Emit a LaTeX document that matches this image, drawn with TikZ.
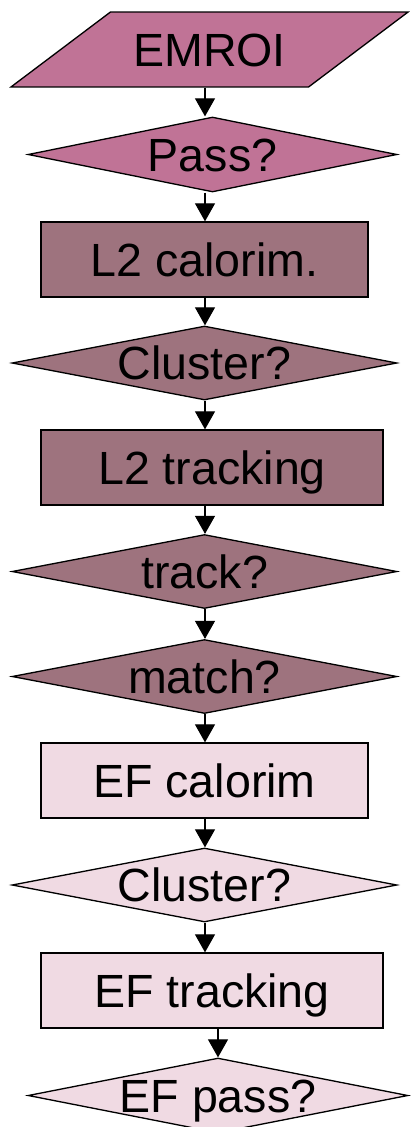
\documentclass[tikz,border=0pt]{standalone}
\usepackage{fontspec}
\setmainfont{Liberation Sans}
\usetikzlibrary{shapes.geometric,arrows.meta}
\definecolor{trigPink}{HTML}{C07396}
\definecolor{trigMauve}{HTML}{9E737E}
\definecolor{trigLight}{HTML}{F0DAE3}
\newcommand{\lbl}[1]{\makebox[0pt]{#1}}
\begin{document}
\begin{tikzpicture}[x=0.02cm, y=-0.02cm,
  every node/.style={font=\fontsize{26.5}{30}\selectfont, draw=black, line width=0.75pt, inner sep=0pt, text height=19pt, text depth=0pt},
  procbox/.style={rectangle, minimum height=1.5cm},
  decision/.style={diamond, minimum height=1.5cm},
  flow/.style={-{Triangle[width=0.4cm,length=0.36cm]}, line width=0.6pt}]
  \useasboundingbox (0,0) rectangle (410,1127);
  % level 1
  \node[trapezium, trapezium left angle=37, trapezium right angle=143, trapezium stretches body,
    inner ysep=11.8pt, minimum width=7.94cm, fill=trigPink] (emroi) at (209.5,49.5) {\lbl{EMROI}};
  \node[decision, minimum width=7.38cm, fill=trigPink] (pass) at (212.5,154.5) {\lbl{Pass?}};
  % level 2
  \node[procbox, minimum width=6.54cm, fill=trigMauve] (l2cal) at (204.5,259.5) {\lbl{L2 calorim.}};
  \node[decision, minimum width=7.7cm, minimum height=1.48cm, fill=trigMauve] (clus) at (204.5,363) {\lbl{Cluster?}};
  \node[procbox, minimum width=6.84cm, fill=trigMauve] (l2trk) at (212,467.5) {\lbl{L2 tracking}};
  \node[decision, minimum width=7.7cm, minimum height=1.48cm, fill=trigMauve] (track) at (204.5,571.5) {\lbl{track?}};
  \node[decision, minimum width=7.7cm, minimum height=1.48cm, fill=trigMauve] (match) at (204.5,676.5) {\lbl{match?}};
  % event filter
  \node[procbox, minimum width=6.54cm, fill=trigLight] (efcal) at (204.5,780.5) {\lbl{EF calorim}};
  \node[decision, minimum width=7.7cm, minimum height=1.48cm, fill=trigLight] (clus2) at (204.5,885) {\lbl{Cluster?}};
  \node[procbox, minimum width=6.84cm, fill=trigLight] (eftrk) at (212,990.5) {\lbl{EF tracking}};
  \node[decision, minimum width=7.6cm, fill=trigLight] (efpass) at (218,1095.5) {\lbl{EF pass?}};
  % arrows
  \coordinate (spine) at (205,0);
  \foreach \a/\b in {emroi/pass, pass/l2cal, l2cal/clus, clus/l2trk, l2trk/track, track/match, match/efcal, efcal/clus2, clus2/eftrk}
    \draw[flow] (spine |- \a.south) -- (spine |- \b.north);
  \draw[flow] (efpass.north |- eftrk.south) -- (efpass.north);
\end{tikzpicture}
\end{document}
